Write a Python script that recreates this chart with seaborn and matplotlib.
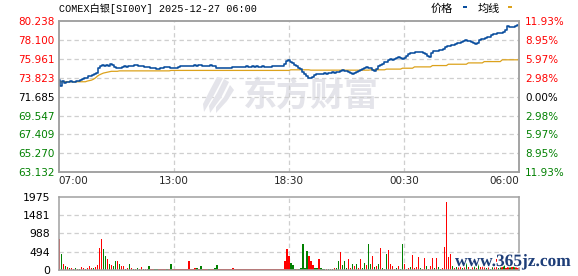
import numpy as np
import pandas as pd
import matplotlib
matplotlib.use("Agg")
import matplotlib.pyplot as plt
import matplotlib.patheffects as pe
from matplotlib.patches import Rectangle, Polygon
import seaborn as sns

# ---------------- data ----------------
title = "COMEX白银[SI00Y] 2025-12-27 06:00"
time_labels = ["07:00", "13:00", "18:30", "00:30", "06:00"]
price_ticks = [80.238, 78.100, 75.961, 73.823, 71.685, 69.547, 67.409, 65.270, 63.132]
price_tick_labels = ["80.238", "78.100", "75.961", "73.823", "71.685", "69.547", "67.409", "65.270", "63.132"]
pct_labels = ["11.93%", "8.95%", "5.97%", "2.98%", "0.00%", "2.98%", "5.97%", "8.95%", "11.93%"]
vol_ticks = [0, 494, 988, 1481, 1975]

price = [
    73.6, 72.9, 73.4, 73.25, 73.35, 73.3, 73.4, 73.3, 73.37, 73.45,
    73.5, 73.6, 73.7, 73.75, 73.85, 74.0, 74.05, 74.1, 74.24, 74.4,
    74.9, 75.15, 75.3, 75.1, 75.25, 75.2, 75.37, 75.25, 75.0, 74.88,
    74.9, 74.95, 75.0, 75.1, 75.07, 75.15, 75.2, 75.15, 75.23, 75.23,
    75.15, 75.2, 75.1, 75.07, 75.07, 75.0, 74.95, 74.9, 74.88, 74.85,
    74.84, 74.9, 74.95, 75.0, 75.0, 75.0, 74.95, 74.9, 74.9, 74.95,
    75.0, 75.1, 75.15, 75.2, 75.2, 75.2, 75.15, 75.2, 75.23, 75.2,
    75.25, 75.23, 75.2, 75.15, 75.2, 75.2, 75.26, 75.2, 75.1, 74.95,
    74.9, 74.88, 74.9, 74.95, 74.9, 74.9, 74.95, 75.0, 75.0, 75.05,
    75.0, 75.07, 75.05, 75.07, 75.1, 75.07, 75.07, 75.1, 75.05, 75.1,
    75.07, 75.05, 75.1, 75.07, 75.05, 75.07, 75.07, 75.1, 75.1, 75.12,
    75.15, 75.15, 75.2, 75.4, 75.7, 75.82, 75.6, 75.45, 75.3, 75.1,
    74.95, 74.85, 74.5, 74.2, 74.0, 73.85, 73.75, 73.9, 74.1, 74.24,
    74.2, 74.3, 74.3, 74.35, 74.3, 74.4, 74.4, 74.45, 74.4, 74.47,
    74.5, 74.6, 74.69, 74.6, 74.55, 74.5, 74.4, 74.24, 74.35, 74.5,
    74.6, 74.72, 74.8, 74.95, 75.07, 74.95, 74.9, 74.75, 74.54, 74.8,
    75.1, 75.29, 75.4, 75.55, 75.6, 75.8, 75.97, 75.8, 75.9, 76.1,
    76.2, 76.05, 75.92, 76.1, 76.3, 76.5, 76.57, 76.6, 76.65, 76.7,
    76.76, 76.76, 76.7, 76.6, 76.48, 76.3, 76.2, 76.6, 76.87, 76.9,
    76.85, 76.95, 76.98, 77.1, 77.3, 77.43, 77.45, 77.5, 77.5, 77.6,
    77.75, 77.8, 77.85, 78.0, 78.06, 78.0, 77.95, 77.9, 77.8, 77.6,
    77.8, 78.1, 78.17, 78.25, 78.3, 78.4, 78.47, 78.7, 78.74, 78.75,
    78.85, 78.85, 78.9, 79.0, 79.2, 79.64, 79.6, 79.53, 79.6, 79.7,
    79.82,
]

avg_line = ([73.37] * 14 + [73.45, 73.5, 73.55, 73.65, 73.8, 74.0, 74.15, 74.25,
            74.35, 74.4, 74.45, 74.5] + [74.55] * 4 + [74.6] * 26 + [74.65] * 60
            + [74.72] * 10 + [74.68] * 30 + [74.72] * 8 + [74.8] * 8 + [74.9] * 6
            + [75.05] * 9 + [75.2] * 8 + [75.35] * 10 + [75.5] * 8 + [75.65] * 9
            + [75.85] * 9)

volume = [
    830, 420, 160, 110, 80, 50, 60, 40, 45, 40,
    40, 70, 45, 40, 50, 110, 60, 50, 90, 140,
    600, 830, 570, 370, 300, 170, 130, 110, 230, 230,
    150, 110, 100, 40, 60, 160, 50, 40, 40, 45,
    40, 80, 40, 40, 40, 100, 40, 40, 40, 40,
    40, 40, 40, 40, 40, 40, 160, 40, 40, 40,
    40, 40, 40, 40, 40, 230, 40, 40, 50, 50,
    40, 110, 40, 40, 40, 40, 40, 40, 60, 130,
    40, 40, 40, 40, 40, 40, 40, 50, 40, 40,
    40, 40, 40, 40, 40, 40, 40, 40, 40, 40,
    40, 40, 40, 40, 40, 40, 40, 40, 40, 40,
    40, 40, 40, 230, 570, 370, 200, 130, 40, 40,
    40, 60, 700, 60, 500, 370, 230, 140, 60, 50,
    300, 50, 40, 40, 40, 40, 40, 40, 50, 50,
    250, 480, 130, 230, 50, 300, 60, 150, 100, 150,
    60, 300, 60, 200, 130, 690, 150, 370, 80, 100,
    150, 580, 50, 40, 420, 550, 150, 100, 40, 60,
    100, 40, 690, 150, 40, 60, 80, 400, 50, 80,
    350, 60, 40, 330, 100, 40, 120, 330, 60, 310,
    80, 40, 60, 630, 1830, 350, 420, 100, 60, 80,
    120, 200, 60, 150, 250, 90, 40, 180, 100, 60,
    220, 70, 130, 260, 60, 150, 40, 200, 90, 300,
    60, 120, 80, 180, 50, 260, 110, 70, 150, 90,
    60,
]

up = [
    1, 0, 1, 0, 1, 0, 1, 1, 0, 1,
    0, 1, 1, 0, 1, 1, 1, 0, 1, 1,
    1, 1, 0, 0, 1, 0, 1, 0, 0, 1,
    0, 1, 1, 0, 1, 0, 1, 0, 1, 0,
    1, 1, 0, 1, 1, 0, 1, 1, 0, 0,
    1, 1, 1, 1, 0, 1, 0, 1, 1, 1,
    1, 1, 1, 1, 1, 1, 1, 1, 1, 0,
    1, 0, 1, 1, 1, 0, 1, 1, 0, 0,
    1, 1, 1, 1, 1, 1, 1, 1, 1, 1,
    1, 1, 1, 1, 1, 1, 1, 1, 1, 1,
    1, 1, 1, 1, 1, 1, 1, 1, 1, 1,
    1, 1, 1, 1, 1, 1, 0, 0, 0, 1,
    0, 0, 0, 0, 0, 1, 1, 1, 0, 0,
    1, 0, 0, 0, 1, 0, 1, 0, 1, 0,
    0, 1, 0, 0, 0, 1, 1, 0, 1, 0,
    1, 1, 0, 0, 1, 0, 0, 1, 0, 1,
    0, 1, 0, 1, 0, 1, 1, 1, 1, 0,
    1, 0, 0, 1, 0, 1, 0, 1, 1, 1,
    1, 0, 1, 1, 0, 1, 1, 1, 0, 1,
    0, 0, 1, 1, 1, 1, 1, 0, 1, 0,
    1, 1, 0, 1, 0, 1, 0, 1, 0, 1,
    0, 1, 1, 1, 0, 1, 0, 0, 1, 1,
    0, 0, 1, 0, 1, 1, 0, 1, 0, 1,
    1,
]

# ---------------- styling ----------------
RED = "#ff0000"
GREEN = "#008000"
BLUE = "#0a4e9e"
GOLD = "#dca21c"
FRAME = "#a0a0a0"
GRID = "#cfcfcf"

sns.set_theme(style="white")
plt.rcParams["font.family"] = ["DejaVu Sans", "Noto Sans CJK SC"]

W, H = 578, 276
fig = plt.figure(figsize=(W / 100, H / 100), dpi=100)
fig.patch.set_facecolor("white")

L, R = 58.7, 519.0
ax = fig.add_axes([L / W, 1 - 172.3 / H, (R - L) / W, (172.3 - 21) / H])
axv = fig.add_axes([L / W, 1 - 270 / H, (R - L) / W, (270 - 196.7) / H])

n = len(price)
df = pd.DataFrame({
    "t": np.arange(n),
    "price": price,
    "avg": avg_line,
    "vol": volume,
    "up": up,
})

xmin, xmax = -0.4, n - 1 + 0.4
quarters = [xmin + (xmax - xmin) * q for q in (0.25, 0.5, 0.75)]

# watermark (behind everything)
WM = "#e4e4ea"
ax.text(0.548, 0.505, "东方财富", transform=ax.transAxes, fontsize=24.5, fontweight="bold",
        color=WM, ha="center", va="center", family=["Noto Sans CJK SC"], zorder=0.3)

def px(xp, yp):
    return (xp / W, 1 - yp / H)

for blade in (
    [(217, 77), (223, 78), (214, 95), (204, 112), (203, 104), (210, 90)],
    [(224, 79), (229, 82), (221, 98), (210, 113), (209, 106), (217, 93)],
    [(230, 85), (234, 90), (227, 101), (216, 113), (216, 107), (224, 97)],
):
    fig.add_artist(Polygon([px(*p) for p in blade], closed=True, transform=fig.transFigure,
                           facecolor=WM, edgecolor="none", zorder=0.2))

# grid
for yv in price_ticks[1:-1]:
    ax.axhline(yv, color=GRID, lw=0.9, ls=(0, (3.5, 2.5)), zorder=0.5)
for xv in quarters:
    ax.axvline(xv, color=GRID, lw=0.9, ls=(0, (3.5, 2.5)), zorder=0.5)
    axv.axvline(xv, color=GRID, lw=0.9, ls=(0, (3.5, 2.5)), zorder=0.5)
for yv in vol_ticks[1:-1]:
    axv.axhline(yv, color=GRID, lw=0.9, ls=(0, (3.5, 2.5)), zorder=0.5)

# lines
sns.lineplot(data=df, x="t", y="avg", ax=ax, color=GOLD, lw=0.9, zorder=2)
sns.lineplot(data=df, x="t", y="price", ax=ax, color=BLUE, lw=1.15, zorder=3,
             drawstyle="steps-mid")

ax.set_xlim(xmin, xmax)
ax.set_ylim(price_ticks[-1], price_ticks[0])
ax.set_yticks(price_ticks)
ax.set_yticklabels(price_tick_labels)
ax.set_xticks([xmin, quarters[0], quarters[1], quarters[2], xmax])
ax.set_xticklabels(time_labels)
ax.set_xlabel("")
ax.set_ylabel("")
ax.tick_params(axis="both", length=0, labelsize=7.5)
ax.tick_params(axis="y", pad=3.2)
ax.tick_params(axis="x", pad=3.0)
xl = ax.get_xticklabels()
xl[0].set_ha("left")
xl[-1].set_ha("right")

def tick_color(i, mid=4):
    if i < mid:
        return RED
    if i == mid:
        return "black"
    return GREEN

for i, lab in enumerate(ax.get_yticklabels()):
    lab.set_color(tick_color(i))

axr = ax.twinx()
axr.set_ylim(price_ticks[-1], price_ticks[0])
axr.set_yticks(price_ticks)
axr.set_yticklabels(pct_labels)
axr.tick_params(axis="y", length=0, labelsize=7.5, pad=4.5)
for i, lab in enumerate(axr.get_yticklabels()):
    lab.set_color(tick_color(i))

# volume bars: one pass per colour, crisp (no antialiasing) so colours stay pure
up_df = df[df["up"] == 1]
dn_df = df[df["up"] == 0]
axv.bar(up_df["t"].to_numpy(), up_df["vol"].to_numpy(), width=0.75, color=RED,
        edgecolor="none", linewidth=0, antialiased=False, zorder=2)
axv.bar(dn_df["t"].to_numpy(), dn_df["vol"].to_numpy(), width=0.75, color=GREEN,
        edgecolor="none", linewidth=0, antialiased=False, zorder=2)
axv.set_xlim(xmin, xmax)
axv.set_ylim(0, 1975)
axv.set_yticks(vol_ticks)
axv.set_yticklabels([str(v) for v in vol_ticks])
axv.set_xticks([])
axv.set_xlabel("")
axv.set_ylabel("")
axv.tick_params(axis="y", length=0, labelsize=7.8, pad=6, colors="black")

for a in (ax, axr, axv):
    for sp in a.spines.values():
        sp.set_visible(True)
        sp.set_color(FRAME)
        sp.set_linewidth(1.1)

# title
fig.text(59 / W, 1 - 8.6 / H, title, fontsize=7.3, color="black", ha="left", va="center",
         family=["Liberation Mono", "Noto Sans CJK SC"])

# legend
fig.text(431 / W, 1 - 9 / H, "价格", fontsize=8, ha="left", va="center",
         family=["Noto Sans CJK SC", "DejaVu Sans"], color="black")
fig.text(478 / W, 1 - 9 / H, "均线", fontsize=8, ha="left", va="center",
         family=["Noto Sans CJK SC", "DejaVu Sans"], color="black")
fig.add_artist(Rectangle((462.5 / W, 1 - 8.2 / H), 4.5 / W, 2.6 / H,
                         transform=fig.transFigure, color=BLUE, lw=0))
fig.add_artist(Rectangle((507.5 / W, 1 - 8.2 / H), 4.5 / W, 2.6 / H,
                         transform=fig.transFigure, color=GOLD, lw=0))

# site watermark at bottom right
fig.text(455 / W, 1 - 262 / H, "www.365jz.com", fontsize=12.5, fontweight="bold",
         color="#1d3d78", ha="left", va="center", family=["Liberation Serif"],
         path_effects=[pe.withStroke(linewidth=2, foreground="white")], zorder=10)

fig.savefig("out.png", dpi=100, facecolor="white")
